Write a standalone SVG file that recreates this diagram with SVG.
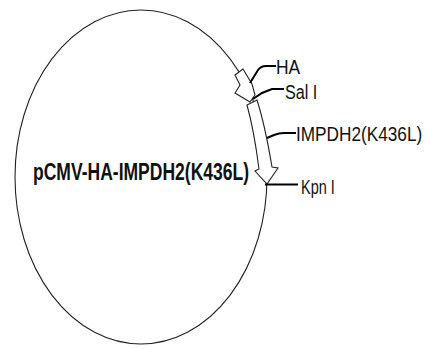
<svg xmlns="http://www.w3.org/2000/svg" width="427" height="349" viewBox="0 0 427 349">
  <style>
    .bb { fill: none; stroke: #222; stroke-width: 1.1; }
    .feat { fill: #fff; stroke: #222; stroke-width: 1.1; stroke-linejoin: miter; }
    .lead { fill: none; stroke: #000; stroke-width: 2; }
    .lbl { font-family: "Liberation Sans", Arial, sans-serif; font-size: 21px; fill: #111; }
    .title { font-family: "Liberation Sans", Arial, sans-serif; font-size: 23px; font-weight: bold; fill: #111; }
  </style>
  <rect width="427" height="349" fill="#fff"/>
  <g id="backbone">
    <ellipse class="bb" cx="141" cy="177" rx="126" ry="167"/>
  </g>
  <g id="title">
    <text class="title" transform="translate(33,180) scale(0.762,1)" x="0" y="0">pCMV-HA-IMPDH2(K436L)</text>
  </g>
  <g id="ha">
    <polygon class="feat" points="243,69 235,75 240,85 235,93 250,102 255,95 252,84"/>
    <text class="lbl" transform="translate(276,73.5) scale(0.83,1)" x="0" y="0">HA</text>
  </g>
  <g id="impdh2">
    <path class="feat" d="M247,105 L257,100 Q265,125 272,167 L278,168 L267,184 L255,171 L259,169 Q254,130 247,105 Z"/>
    <text class="lbl" transform="translate(296,141) scale(0.82,1)" x="0" y="0">IMPDH2(K436L)</text>
  </g>
  <g id="sali">
    <text class="lbl" transform="translate(285,98.5) scale(0.77,1)" x="0" y="0">Sal I</text>
  </g>
  <g id="kpni">
    <text class="lbl" transform="translate(301,193.5) scale(0.69,1)" x="0" y="0">Kpn I</text>
  </g>
  <g id="connectors">
    <path class="lead" d="M250,83 L258,70 Q261,66 266,66 L276,66"/>
    <path class="lead" d="M253,99 L262,93 L272,89 L284,89"/>
    <path class="lead" d="M267,138 L274,135 Q279,133 284,133 L296,133"/>
    <path class="lead" d="M265,184.5 L298,184.5"/>
  </g>
</svg>
